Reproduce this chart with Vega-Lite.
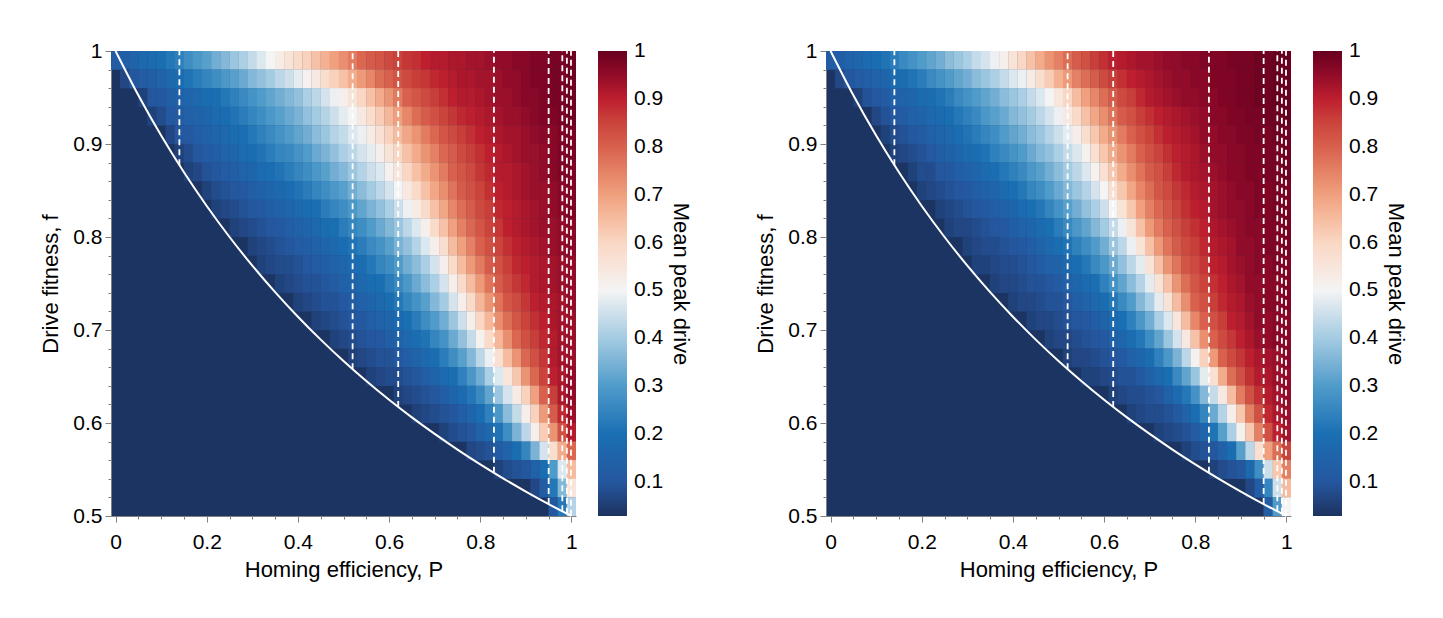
{
  "$schema": "https://vega.github.io/schema/vega-lite/v6.json",
  "background": "white",
  "padding": {"left": 39, "top": 40, "right": 5, "bottom": 5},
  "config": {
    "font": "Liberation Sans",
    "view": {"stroke": null},
    "axis": {"domainColor": "#808080", "tickColor": "#808080", "labelColor": "#000000", "titleColor": "#000000", "labelFontSize": 21, "titleFontSize": 22, "titleFontWeight": "normal", "grid": false, "labelPadding": 3}
  },
  "datasets": {
    "heatA": [
{"P":0,"f":0.99,"v":0.12},{"P":0.02,"f":0.99,"v":0.13},{"P":0.04,"f":0.99,"v":0.15},{"P":0.06,"f":0.99,"v":0.17},{"P":0.08,"f":0.99,"v":0.18},{"P":0.1,"f":0.99,"v":0.2},{"P":0.12,"f":0.99,"v":0.22},{"P":0.14,"f":0.99,"v":0.24},{"P":0.16,"f":0.99,"v":0.27},{"P":0.18,"f":0.99,"v":0.29},{"P":0.2,"f":0.99,"v":0.31},{"P":0.22,"f":0.99,"v":0.34},{"P":0.24,"f":0.99,"v":0.36},{"P":0.26,"f":0.99,"v":0.39},{"P":0.28,"f":0.99,"v":0.41},{"P":0.3,"f":0.99,"v":0.44},{"P":0.32,"f":0.99,"v":0.47},{"P":0.34,"f":0.99,"v":0.5},{"P":0.36,"f":0.99,"v":0.53},{"P":0.38,"f":0.99,"v":0.56},{"P":0.4,"f":0.99,"v":0.59},{"P":0.42,"f":0.99,"v":0.61},{"P":0.44,"f":0.99,"v":0.64},{"P":0.46,"f":0.99,"v":0.67},{"P":0.48,"f":0.99,"v":0.7},{"P":0.5,"f":0.99,"v":0.73},{"P":0.52,"f":0.99,"v":0.76},{"P":0.54,"f":0.99,"v":0.79},{"P":0.56,"f":0.99,"v":0.81},{"P":0.58,"f":0.99,"v":0.82},{"P":0.6,"f":0.99,"v":0.84},{"P":0.62,"f":0.99,"v":0.85},{"P":0.64,"f":0.99,"v":0.87},{"P":0.66,"f":0.99,"v":0.88},{"P":0.68,"f":0.99,"v":0.9},{"P":0.7,"f":0.99,"v":0.91},{"P":0.72,"f":0.99,"v":0.91},{"P":0.74,"f":0.99,"v":0.92},{"P":0.76,"f":0.99,"v":0.92},{"P":0.78,"f":0.99,"v":0.93},{"P":0.8,"f":0.99,"v":0.93},{"P":0.82,"f":0.99,"v":0.94},{"P":0.84,"f":0.99,"v":0.95},{"P":0.86,"f":0.99,"v":0.95},{"P":0.88,"f":0.99,"v":0.96},{"P":0.9,"f":0.99,"v":0.96},{"P":0.92,"f":0.99,"v":0.97},{"P":0.94,"f":0.99,"v":0.97},{"P":0.96,"f":0.99,"v":0.98},{"P":0.98,"f":0.99,"v":0.98},{"P":1,"f":0.99,"v":0.99},
{"P":0.02,"f":0.97,"v":0.07},{"P":0.04,"f":0.97,"v":0.1},{"P":0.06,"f":0.97,"v":0.12},{"P":0.08,"f":0.97,"v":0.13},{"P":0.1,"f":0.97,"v":0.15},{"P":0.12,"f":0.97,"v":0.17},{"P":0.14,"f":0.97,"v":0.19},{"P":0.16,"f":0.97,"v":0.21},{"P":0.18,"f":0.97,"v":0.23},{"P":0.2,"f":0.97,"v":0.25},{"P":0.22,"f":0.97,"v":0.27},{"P":0.24,"f":0.97,"v":0.29},{"P":0.26,"f":0.97,"v":0.31},{"P":0.28,"f":0.97,"v":0.33},{"P":0.3,"f":0.97,"v":0.36},{"P":0.32,"f":0.97,"v":0.38},{"P":0.34,"f":0.97,"v":0.4},{"P":0.36,"f":0.97,"v":0.43},{"P":0.38,"f":0.97,"v":0.45},{"P":0.4,"f":0.97,"v":0.48},{"P":0.42,"f":0.97,"v":0.51},{"P":0.44,"f":0.97,"v":0.54},{"P":0.46,"f":0.97,"v":0.58},{"P":0.48,"f":0.97,"v":0.61},{"P":0.5,"f":0.97,"v":0.64},{"P":0.52,"f":0.97,"v":0.68},{"P":0.54,"f":0.97,"v":0.71},{"P":0.56,"f":0.97,"v":0.74},{"P":0.58,"f":0.97,"v":0.78},{"P":0.6,"f":0.97,"v":0.8},{"P":0.62,"f":0.97,"v":0.82},{"P":0.64,"f":0.97,"v":0.84},{"P":0.66,"f":0.97,"v":0.86},{"P":0.68,"f":0.97,"v":0.87},{"P":0.7,"f":0.97,"v":0.89},{"P":0.72,"f":0.97,"v":0.9},{"P":0.74,"f":0.97,"v":0.91},{"P":0.76,"f":0.97,"v":0.92},{"P":0.78,"f":0.97,"v":0.92},{"P":0.8,"f":0.97,"v":0.93},{"P":0.82,"f":0.97,"v":0.93},{"P":0.84,"f":0.97,"v":0.94},{"P":0.86,"f":0.97,"v":0.95},{"P":0.88,"f":0.97,"v":0.95},{"P":0.9,"f":0.97,"v":0.96},{"P":0.92,"f":0.97,"v":0.97},{"P":0.94,"f":0.97,"v":0.97},{"P":0.96,"f":0.97,"v":0.98},{"P":0.98,"f":0.97,"v":0.98},{"P":1,"f":0.97,"v":0.99},
{"P":0.06,"f":0.95,"v":0.06},{"P":0.08,"f":0.95,"v":0.1},{"P":0.1,"f":0.95,"v":0.11},{"P":0.12,"f":0.95,"v":0.13},{"P":0.14,"f":0.95,"v":0.14},{"P":0.16,"f":0.95,"v":0.16},{"P":0.18,"f":0.95,"v":0.17},{"P":0.2,"f":0.95,"v":0.19},{"P":0.22,"f":0.95,"v":0.2},{"P":0.24,"f":0.95,"v":0.22},{"P":0.26,"f":0.95,"v":0.24},{"P":0.28,"f":0.95,"v":0.26},{"P":0.3,"f":0.95,"v":0.28},{"P":0.32,"f":0.95,"v":0.3},{"P":0.34,"f":0.95,"v":0.32},{"P":0.36,"f":0.95,"v":0.34},{"P":0.38,"f":0.95,"v":0.36},{"P":0.4,"f":0.95,"v":0.38},{"P":0.42,"f":0.95,"v":0.41},{"P":0.44,"f":0.95,"v":0.43},{"P":0.46,"f":0.95,"v":0.46},{"P":0.48,"f":0.95,"v":0.49},{"P":0.5,"f":0.95,"v":0.52},{"P":0.52,"f":0.95,"v":0.56},{"P":0.54,"f":0.95,"v":0.6},{"P":0.56,"f":0.95,"v":0.64},{"P":0.58,"f":0.95,"v":0.68},{"P":0.6,"f":0.95,"v":0.72},{"P":0.62,"f":0.95,"v":0.76},{"P":0.64,"f":0.95,"v":0.8},{"P":0.66,"f":0.95,"v":0.82},{"P":0.68,"f":0.95,"v":0.84},{"P":0.7,"f":0.95,"v":0.86},{"P":0.72,"f":0.95,"v":0.88},{"P":0.74,"f":0.95,"v":0.9},{"P":0.76,"f":0.95,"v":0.91},{"P":0.78,"f":0.95,"v":0.91},{"P":0.8,"f":0.95,"v":0.92},{"P":0.82,"f":0.95,"v":0.93},{"P":0.84,"f":0.95,"v":0.94},{"P":0.86,"f":0.95,"v":0.94},{"P":0.88,"f":0.95,"v":0.95},{"P":0.9,"f":0.95,"v":0.96},{"P":0.92,"f":0.95,"v":0.96},{"P":0.94,"f":0.95,"v":0.97},{"P":0.96,"f":0.95,"v":0.98},{"P":0.98,"f":0.95,"v":0.98},{"P":1,"f":0.95,"v":0.99},
{"P":0.08,"f":0.93,"v":0.06},{"P":0.1,"f":0.93,"v":0.08},{"P":0.12,"f":0.93,"v":0.11},{"P":0.14,"f":0.93,"v":0.12},{"P":0.16,"f":0.93,"v":0.14},{"P":0.18,"f":0.93,"v":0.15},{"P":0.2,"f":0.93,"v":0.16},{"P":0.22,"f":0.93,"v":0.18},{"P":0.24,"f":0.93,"v":0.19},{"P":0.26,"f":0.93,"v":0.21},{"P":0.28,"f":0.93,"v":0.23},{"P":0.3,"f":0.93,"v":0.25},{"P":0.32,"f":0.93,"v":0.27},{"P":0.34,"f":0.93,"v":0.29},{"P":0.36,"f":0.93,"v":0.31},{"P":0.38,"f":0.93,"v":0.33},{"P":0.4,"f":0.93,"v":0.35},{"P":0.42,"f":0.93,"v":0.38},{"P":0.44,"f":0.93,"v":0.4},{"P":0.46,"f":0.93,"v":0.42},{"P":0.48,"f":0.93,"v":0.45},{"P":0.5,"f":0.93,"v":0.48},{"P":0.52,"f":0.93,"v":0.5},{"P":0.54,"f":0.93,"v":0.54},{"P":0.56,"f":0.93,"v":0.58},{"P":0.58,"f":0.93,"v":0.62},{"P":0.6,"f":0.93,"v":0.66},{"P":0.62,"f":0.93,"v":0.7},{"P":0.64,"f":0.93,"v":0.74},{"P":0.66,"f":0.93,"v":0.78},{"P":0.68,"f":0.93,"v":0.81},{"P":0.7,"f":0.93,"v":0.83},{"P":0.72,"f":0.93,"v":0.85},{"P":0.74,"f":0.93,"v":0.87},{"P":0.76,"f":0.93,"v":0.89},{"P":0.78,"f":0.93,"v":0.9},{"P":0.8,"f":0.93,"v":0.91},{"P":0.82,"f":0.93,"v":0.92},{"P":0.84,"f":0.93,"v":0.93},{"P":0.86,"f":0.93,"v":0.94},{"P":0.88,"f":0.93,"v":0.94},{"P":0.9,"f":0.93,"v":0.95},{"P":0.92,"f":0.93,"v":0.96},{"P":0.94,"f":0.93,"v":0.97},{"P":0.96,"f":0.93,"v":0.97},{"P":0.98,"f":0.93,"v":0.98},{"P":1,"f":0.93,"v":0.99},
{"P":0.12,"f":0.91,"v":0.07},{"P":0.14,"f":0.91,"v":0.1},{"P":0.16,"f":0.91,"v":0.11},{"P":0.18,"f":0.91,"v":0.13},{"P":0.2,"f":0.91,"v":0.14},{"P":0.22,"f":0.91,"v":0.16},{"P":0.24,"f":0.91,"v":0.17},{"P":0.26,"f":0.91,"v":0.19},{"P":0.28,"f":0.91,"v":0.2},{"P":0.3,"f":0.91,"v":0.22},{"P":0.32,"f":0.91,"v":0.24},{"P":0.34,"f":0.91,"v":0.26},{"P":0.36,"f":0.91,"v":0.28},{"P":0.38,"f":0.91,"v":0.3},{"P":0.4,"f":0.91,"v":0.32},{"P":0.42,"f":0.91,"v":0.34},{"P":0.44,"f":0.91,"v":0.37},{"P":0.46,"f":0.91,"v":0.39},{"P":0.48,"f":0.91,"v":0.42},{"P":0.5,"f":0.91,"v":0.44},{"P":0.52,"f":0.91,"v":0.47},{"P":0.54,"f":0.91,"v":0.49},{"P":0.56,"f":0.91,"v":0.53},{"P":0.58,"f":0.91,"v":0.57},{"P":0.6,"f":0.91,"v":0.61},{"P":0.62,"f":0.91,"v":0.65},{"P":0.64,"f":0.91,"v":0.69},{"P":0.66,"f":0.91,"v":0.72},{"P":0.68,"f":0.91,"v":0.76},{"P":0.7,"f":0.91,"v":0.79},{"P":0.72,"f":0.91,"v":0.82},{"P":0.74,"f":0.91,"v":0.84},{"P":0.76,"f":0.91,"v":0.86},{"P":0.78,"f":0.91,"v":0.88},{"P":0.8,"f":0.91,"v":0.9},{"P":0.82,"f":0.91,"v":0.91},{"P":0.84,"f":0.91,"v":0.92},{"P":0.86,"f":0.91,"v":0.93},{"P":0.88,"f":0.91,"v":0.93},{"P":0.9,"f":0.91,"v":0.94},{"P":0.92,"f":0.91,"v":0.95},{"P":0.94,"f":0.91,"v":0.96},{"P":0.96,"f":0.91,"v":0.96},{"P":0.98,"f":0.91,"v":0.97},{"P":1,"f":0.91,"v":0.98},
{"P":0.14,"f":0.89,"v":0.06},{"P":0.16,"f":0.89,"v":0.08},{"P":0.18,"f":0.89,"v":0.1},{"P":0.2,"f":0.89,"v":0.12},{"P":0.22,"f":0.89,"v":0.13},{"P":0.24,"f":0.89,"v":0.15},{"P":0.26,"f":0.89,"v":0.16},{"P":0.28,"f":0.89,"v":0.18},{"P":0.3,"f":0.89,"v":0.19},{"P":0.32,"f":0.89,"v":0.21},{"P":0.34,"f":0.89,"v":0.23},{"P":0.36,"f":0.89,"v":0.25},{"P":0.38,"f":0.89,"v":0.26},{"P":0.4,"f":0.89,"v":0.28},{"P":0.42,"f":0.89,"v":0.3},{"P":0.44,"f":0.89,"v":0.33},{"P":0.46,"f":0.89,"v":0.35},{"P":0.48,"f":0.89,"v":0.38},{"P":0.5,"f":0.89,"v":0.41},{"P":0.52,"f":0.89,"v":0.43},{"P":0.54,"f":0.89,"v":0.46},{"P":0.56,"f":0.89,"v":0.48},{"P":0.58,"f":0.89,"v":0.52},{"P":0.6,"f":0.89,"v":0.56},{"P":0.62,"f":0.89,"v":0.6},{"P":0.64,"f":0.89,"v":0.64},{"P":0.66,"f":0.89,"v":0.68},{"P":0.68,"f":0.89,"v":0.72},{"P":0.7,"f":0.89,"v":0.75},{"P":0.72,"f":0.89,"v":0.79},{"P":0.74,"f":0.89,"v":0.81},{"P":0.76,"f":0.89,"v":0.84},{"P":0.78,"f":0.89,"v":0.86},{"P":0.8,"f":0.89,"v":0.88},{"P":0.82,"f":0.89,"v":0.9},{"P":0.84,"f":0.89,"v":0.91},{"P":0.86,"f":0.89,"v":0.92},{"P":0.88,"f":0.89,"v":0.93},{"P":0.9,"f":0.89,"v":0.94},{"P":0.92,"f":0.89,"v":0.94},{"P":0.94,"f":0.89,"v":0.95},{"P":0.96,"f":0.89,"v":0.96},{"P":0.98,"f":0.89,"v":0.97},{"P":1,"f":0.89,"v":0.98},
{"P":0.16,"f":0.87,"v":0.06},{"P":0.18,"f":0.87,"v":0.07},{"P":0.2,"f":0.87,"v":0.09},{"P":0.22,"f":0.87,"v":0.1},{"P":0.24,"f":0.87,"v":0.12},{"P":0.26,"f":0.87,"v":0.13},{"P":0.28,"f":0.87,"v":0.15},{"P":0.3,"f":0.87,"v":0.16},{"P":0.32,"f":0.87,"v":0.18},{"P":0.34,"f":0.87,"v":0.19},{"P":0.36,"f":0.87,"v":0.21},{"P":0.38,"f":0.87,"v":0.23},{"P":0.4,"f":0.87,"v":0.25},{"P":0.42,"f":0.87,"v":0.27},{"P":0.44,"f":0.87,"v":0.29},{"P":0.46,"f":0.87,"v":0.31},{"P":0.48,"f":0.87,"v":0.34},{"P":0.5,"f":0.87,"v":0.36},{"P":0.52,"f":0.87,"v":0.39},{"P":0.54,"f":0.87,"v":0.42},{"P":0.56,"f":0.87,"v":0.45},{"P":0.58,"f":0.87,"v":0.47},{"P":0.6,"f":0.87,"v":0.51},{"P":0.62,"f":0.87,"v":0.55},{"P":0.64,"f":0.87,"v":0.6},{"P":0.66,"f":0.87,"v":0.64},{"P":0.68,"f":0.87,"v":0.68},{"P":0.7,"f":0.87,"v":0.72},{"P":0.72,"f":0.87,"v":0.76},{"P":0.74,"f":0.87,"v":0.8},{"P":0.76,"f":0.87,"v":0.82},{"P":0.78,"f":0.87,"v":0.84},{"P":0.8,"f":0.87,"v":0.87},{"P":0.82,"f":0.87,"v":0.89},{"P":0.84,"f":0.87,"v":0.91},{"P":0.86,"f":0.87,"v":0.91},{"P":0.88,"f":0.87,"v":0.92},{"P":0.9,"f":0.87,"v":0.93},{"P":0.92,"f":0.87,"v":0.94},{"P":0.94,"f":0.87,"v":0.95},{"P":0.96,"f":0.87,"v":0.96},{"P":0.98,"f":0.87,"v":0.97},{"P":1,"f":0.87,"v":0.97},
{"P":0.2,"f":0.85,"v":0.06},{"P":0.22,"f":0.85,"v":0.08},{"P":0.24,"f":0.85,"v":0.09},{"P":0.26,"f":0.85,"v":0.1},{"P":0.28,"f":0.85,"v":0.11},{"P":0.3,"f":0.85,"v":0.13},{"P":0.32,"f":0.85,"v":0.14},{"P":0.34,"f":0.85,"v":0.16},{"P":0.36,"f":0.85,"v":0.17},{"P":0.38,"f":0.85,"v":0.19},{"P":0.4,"f":0.85,"v":0.21},{"P":0.42,"f":0.85,"v":0.23},{"P":0.44,"f":0.85,"v":0.25},{"P":0.46,"f":0.85,"v":0.27},{"P":0.48,"f":0.85,"v":0.29},{"P":0.5,"f":0.85,"v":0.31},{"P":0.52,"f":0.85,"v":0.34},{"P":0.54,"f":0.85,"v":0.37},{"P":0.56,"f":0.85,"v":0.4},{"P":0.58,"f":0.85,"v":0.43},{"P":0.6,"f":0.85,"v":0.46},{"P":0.62,"f":0.85,"v":0.5},{"P":0.64,"f":0.85,"v":0.54},{"P":0.66,"f":0.85,"v":0.59},{"P":0.68,"f":0.85,"v":0.64},{"P":0.7,"f":0.85,"v":0.69},{"P":0.72,"f":0.85,"v":0.73},{"P":0.74,"f":0.85,"v":0.77},{"P":0.76,"f":0.85,"v":0.81},{"P":0.78,"f":0.85,"v":0.83},{"P":0.8,"f":0.85,"v":0.85},{"P":0.82,"f":0.85,"v":0.88},{"P":0.84,"f":0.85,"v":0.9},{"P":0.86,"f":0.85,"v":0.91},{"P":0.88,"f":0.85,"v":0.92},{"P":0.9,"f":0.85,"v":0.93},{"P":0.92,"f":0.85,"v":0.94},{"P":0.94,"f":0.85,"v":0.94},{"P":0.96,"f":0.85,"v":0.95},{"P":0.98,"f":0.85,"v":0.96},{"P":1,"f":0.85,"v":0.97},
{"P":0.22,"f":0.83,"v":0.06},{"P":0.24,"f":0.83,"v":0.07},{"P":0.26,"f":0.83,"v":0.08},{"P":0.28,"f":0.83,"v":0.09},{"P":0.3,"f":0.83,"v":0.1},{"P":0.32,"f":0.83,"v":0.11},{"P":0.34,"f":0.83,"v":0.13},{"P":0.36,"f":0.83,"v":0.14},{"P":0.38,"f":0.83,"v":0.16},{"P":0.4,"f":0.83,"v":0.17},{"P":0.42,"f":0.83,"v":0.19},{"P":0.44,"f":0.83,"v":0.2},{"P":0.46,"f":0.83,"v":0.23},{"P":0.48,"f":0.83,"v":0.25},{"P":0.5,"f":0.83,"v":0.27},{"P":0.52,"f":0.83,"v":0.29},{"P":0.54,"f":0.83,"v":0.32},{"P":0.56,"f":0.83,"v":0.35},{"P":0.58,"f":0.83,"v":0.38},{"P":0.6,"f":0.83,"v":0.41},{"P":0.62,"f":0.83,"v":0.45},{"P":0.64,"f":0.83,"v":0.49},{"P":0.66,"f":0.83,"v":0.53},{"P":0.68,"f":0.83,"v":0.59},{"P":0.7,"f":0.83,"v":0.64},{"P":0.72,"f":0.83,"v":0.69},{"P":0.74,"f":0.83,"v":0.74},{"P":0.76,"f":0.83,"v":0.78},{"P":0.78,"f":0.83,"v":0.81},{"P":0.8,"f":0.83,"v":0.84},{"P":0.82,"f":0.83,"v":0.86},{"P":0.84,"f":0.83,"v":0.89},{"P":0.86,"f":0.83,"v":0.9},{"P":0.88,"f":0.83,"v":0.91},{"P":0.9,"f":0.83,"v":0.92},{"P":0.92,"f":0.83,"v":0.93},{"P":0.94,"f":0.83,"v":0.94},{"P":0.96,"f":0.83,"v":0.95},{"P":0.98,"f":0.83,"v":0.96},{"P":1,"f":0.83,"v":0.97},
{"P":0.26,"f":0.81,"v":0.06},{"P":0.28,"f":0.81,"v":0.07},{"P":0.3,"f":0.81,"v":0.08},{"P":0.32,"f":0.81,"v":0.09},{"P":0.34,"f":0.81,"v":0.1},{"P":0.36,"f":0.81,"v":0.11},{"P":0.38,"f":0.81,"v":0.13},{"P":0.4,"f":0.81,"v":0.14},{"P":0.42,"f":0.81,"v":0.16},{"P":0.44,"f":0.81,"v":0.17},{"P":0.46,"f":0.81,"v":0.19},{"P":0.48,"f":0.81,"v":0.2},{"P":0.5,"f":0.81,"v":0.23},{"P":0.52,"f":0.81,"v":0.25},{"P":0.54,"f":0.81,"v":0.27},{"P":0.56,"f":0.81,"v":0.3},{"P":0.58,"f":0.81,"v":0.33},{"P":0.6,"f":0.81,"v":0.36},{"P":0.62,"f":0.81,"v":0.39},{"P":0.64,"f":0.81,"v":0.43},{"P":0.66,"f":0.81,"v":0.47},{"P":0.68,"f":0.81,"v":0.52},{"P":0.7,"f":0.81,"v":0.59},{"P":0.72,"f":0.81,"v":0.64},{"P":0.74,"f":0.81,"v":0.7},{"P":0.76,"f":0.81,"v":0.75},{"P":0.78,"f":0.81,"v":0.79},{"P":0.8,"f":0.81,"v":0.82},{"P":0.82,"f":0.81,"v":0.85},{"P":0.84,"f":0.81,"v":0.87},{"P":0.86,"f":0.81,"v":0.9},{"P":0.88,"f":0.81,"v":0.91},{"P":0.9,"f":0.81,"v":0.92},{"P":0.92,"f":0.81,"v":0.93},{"P":0.94,"f":0.81,"v":0.94},{"P":0.96,"f":0.81,"v":0.94},{"P":0.98,"f":0.81,"v":0.95},{"P":1,"f":0.81,"v":0.96},
{"P":0.3,"f":0.79,"v":0.06},{"P":0.32,"f":0.79,"v":0.07},{"P":0.34,"f":0.79,"v":0.08},{"P":0.36,"f":0.79,"v":0.09},{"P":0.38,"f":0.79,"v":0.1},{"P":0.4,"f":0.79,"v":0.12},{"P":0.42,"f":0.79,"v":0.13},{"P":0.44,"f":0.79,"v":0.14},{"P":0.46,"f":0.79,"v":0.16},{"P":0.48,"f":0.79,"v":0.17},{"P":0.5,"f":0.79,"v":0.19},{"P":0.52,"f":0.79,"v":0.21},{"P":0.54,"f":0.79,"v":0.23},{"P":0.56,"f":0.79,"v":0.26},{"P":0.58,"f":0.79,"v":0.28},{"P":0.6,"f":0.79,"v":0.31},{"P":0.62,"f":0.79,"v":0.35},{"P":0.64,"f":0.79,"v":0.38},{"P":0.66,"f":0.79,"v":0.42},{"P":0.68,"f":0.79,"v":0.47},{"P":0.7,"f":0.79,"v":0.52},{"P":0.72,"f":0.79,"v":0.58},{"P":0.74,"f":0.79,"v":0.65},{"P":0.76,"f":0.79,"v":0.7},{"P":0.78,"f":0.79,"v":0.75},{"P":0.8,"f":0.79,"v":0.8},{"P":0.82,"f":0.79,"v":0.83},{"P":0.84,"f":0.79,"v":0.85},{"P":0.86,"f":0.79,"v":0.88},{"P":0.88,"f":0.79,"v":0.9},{"P":0.9,"f":0.79,"v":0.91},{"P":0.92,"f":0.79,"v":0.92},{"P":0.94,"f":0.79,"v":0.93},{"P":0.96,"f":0.79,"v":0.94},{"P":0.98,"f":0.79,"v":0.95},{"P":1,"f":0.79,"v":0.96},
{"P":0.32,"f":0.77,"v":0.06},{"P":0.34,"f":0.77,"v":0.07},{"P":0.36,"f":0.77,"v":0.08},{"P":0.38,"f":0.77,"v":0.08},{"P":0.4,"f":0.77,"v":0.09},{"P":0.42,"f":0.77,"v":0.1},{"P":0.44,"f":0.77,"v":0.12},{"P":0.46,"f":0.77,"v":0.13},{"P":0.48,"f":0.77,"v":0.15},{"P":0.5,"f":0.77,"v":0.16},{"P":0.52,"f":0.77,"v":0.18},{"P":0.54,"f":0.77,"v":0.19},{"P":0.56,"f":0.77,"v":0.22},{"P":0.58,"f":0.77,"v":0.25},{"P":0.6,"f":0.77,"v":0.27},{"P":0.62,"f":0.77,"v":0.3},{"P":0.64,"f":0.77,"v":0.34},{"P":0.66,"f":0.77,"v":0.37},{"P":0.68,"f":0.77,"v":0.41},{"P":0.7,"f":0.77,"v":0.46},{"P":0.72,"f":0.77,"v":0.52},{"P":0.74,"f":0.77,"v":0.59},{"P":0.76,"f":0.77,"v":0.65},{"P":0.78,"f":0.77,"v":0.71},{"P":0.8,"f":0.77,"v":0.76},{"P":0.82,"f":0.77,"v":0.81},{"P":0.84,"f":0.77,"v":0.83},{"P":0.86,"f":0.77,"v":0.86},{"P":0.88,"f":0.77,"v":0.89},{"P":0.9,"f":0.77,"v":0.9},{"P":0.92,"f":0.77,"v":0.91},{"P":0.94,"f":0.77,"v":0.92},{"P":0.96,"f":0.77,"v":0.93},{"P":0.98,"f":0.77,"v":0.94},{"P":1,"f":0.77,"v":0.95},
{"P":0.36,"f":0.75,"v":0.06},{"P":0.38,"f":0.75,"v":0.07},{"P":0.4,"f":0.75,"v":0.08},{"P":0.42,"f":0.75,"v":0.09},{"P":0.44,"f":0.75,"v":0.09},{"P":0.46,"f":0.75,"v":0.1},{"P":0.48,"f":0.75,"v":0.12},{"P":0.5,"f":0.75,"v":0.14},{"P":0.52,"f":0.75,"v":0.15},{"P":0.54,"f":0.75,"v":0.17},{"P":0.56,"f":0.75,"v":0.19},{"P":0.58,"f":0.75,"v":0.2},{"P":0.6,"f":0.75,"v":0.23},{"P":0.62,"f":0.75,"v":0.26},{"P":0.64,"f":0.75,"v":0.29},{"P":0.66,"f":0.75,"v":0.33},{"P":0.68,"f":0.75,"v":0.37},{"P":0.7,"f":0.75,"v":0.41},{"P":0.72,"f":0.75,"v":0.46},{"P":0.74,"f":0.75,"v":0.52},{"P":0.76,"f":0.75,"v":0.59},{"P":0.78,"f":0.75,"v":0.65},{"P":0.8,"f":0.75,"v":0.71},{"P":0.82,"f":0.75,"v":0.77},{"P":0.84,"f":0.75,"v":0.81},{"P":0.86,"f":0.75,"v":0.84},{"P":0.88,"f":0.75,"v":0.87},{"P":0.9,"f":0.75,"v":0.89},{"P":0.92,"f":0.75,"v":0.91},{"P":0.94,"f":0.75,"v":0.92},{"P":0.96,"f":0.75,"v":0.93},{"P":0.98,"f":0.75,"v":0.94},{"P":1,"f":0.75,"v":0.95},
{"P":0.4,"f":0.73,"v":0.06},{"P":0.42,"f":0.73,"v":0.07},{"P":0.44,"f":0.73,"v":0.08},{"P":0.46,"f":0.73,"v":0.09},{"P":0.48,"f":0.73,"v":0.09},{"P":0.5,"f":0.73,"v":0.11},{"P":0.52,"f":0.73,"v":0.12},{"P":0.54,"f":0.73,"v":0.14},{"P":0.56,"f":0.73,"v":0.16},{"P":0.58,"f":0.73,"v":0.17},{"P":0.6,"f":0.73,"v":0.19},{"P":0.62,"f":0.73,"v":0.22},{"P":0.64,"f":0.73,"v":0.25},{"P":0.66,"f":0.73,"v":0.28},{"P":0.68,"f":0.73,"v":0.31},{"P":0.7,"f":0.73,"v":0.36},{"P":0.72,"f":0.73,"v":0.4},{"P":0.74,"f":0.73,"v":0.46},{"P":0.76,"f":0.73,"v":0.52},{"P":0.78,"f":0.73,"v":0.59},{"P":0.8,"f":0.73,"v":0.66},{"P":0.82,"f":0.73,"v":0.72},{"P":0.84,"f":0.73,"v":0.77},{"P":0.86,"f":0.73,"v":0.82},{"P":0.88,"f":0.73,"v":0.84},{"P":0.9,"f":0.73,"v":0.87},{"P":0.92,"f":0.73,"v":0.9},{"P":0.94,"f":0.73,"v":0.91},{"P":0.96,"f":0.73,"v":0.92},{"P":0.98,"f":0.73,"v":0.93},{"P":1,"f":0.73,"v":0.95},
{"P":0.44,"f":0.71,"v":0.06},{"P":0.46,"f":0.71,"v":0.07},{"P":0.48,"f":0.71,"v":0.08},{"P":0.5,"f":0.71,"v":0.09},{"P":0.52,"f":0.71,"v":0.1},{"P":0.54,"f":0.71,"v":0.11},{"P":0.56,"f":0.71,"v":0.13},{"P":0.58,"f":0.71,"v":0.15},{"P":0.6,"f":0.71,"v":0.16},{"P":0.62,"f":0.71,"v":0.18},{"P":0.64,"f":0.71,"v":0.2},{"P":0.66,"f":0.71,"v":0.23},{"P":0.68,"f":0.71,"v":0.27},{"P":0.7,"f":0.71,"v":0.3},{"P":0.72,"f":0.71,"v":0.34},{"P":0.74,"f":0.71,"v":0.39},{"P":0.76,"f":0.71,"v":0.45},{"P":0.78,"f":0.71,"v":0.52},{"P":0.8,"f":0.71,"v":0.6},{"P":0.82,"f":0.71,"v":0.66},{"P":0.84,"f":0.71,"v":0.73},{"P":0.86,"f":0.71,"v":0.78},{"P":0.88,"f":0.71,"v":0.82},{"P":0.9,"f":0.71,"v":0.85},{"P":0.92,"f":0.71,"v":0.88},{"P":0.94,"f":0.71,"v":0.9},{"P":0.96,"f":0.71,"v":0.92},{"P":0.98,"f":0.71,"v":0.93},{"P":1,"f":0.71,"v":0.94},
{"P":0.48,"f":0.69,"v":0.06},{"P":0.5,"f":0.69,"v":0.07},{"P":0.52,"f":0.69,"v":0.08},{"P":0.54,"f":0.69,"v":0.09},{"P":0.56,"f":0.69,"v":0.1},{"P":0.58,"f":0.69,"v":0.11},{"P":0.6,"f":0.69,"v":0.13},{"P":0.62,"f":0.69,"v":0.15},{"P":0.64,"f":0.69,"v":0.17},{"P":0.66,"f":0.69,"v":0.19},{"P":0.68,"f":0.69,"v":0.21},{"P":0.7,"f":0.69,"v":0.25},{"P":0.72,"f":0.69,"v":0.28},{"P":0.74,"f":0.69,"v":0.33},{"P":0.76,"f":0.69,"v":0.38},{"P":0.78,"f":0.69,"v":0.44},{"P":0.8,"f":0.69,"v":0.51},{"P":0.82,"f":0.69,"v":0.59},{"P":0.84,"f":0.69,"v":0.66},{"P":0.86,"f":0.69,"v":0.73},{"P":0.88,"f":0.69,"v":0.79},{"P":0.9,"f":0.69,"v":0.83},{"P":0.92,"f":0.69,"v":0.86},{"P":0.94,"f":0.69,"v":0.89},{"P":0.96,"f":0.69,"v":0.91},{"P":0.98,"f":0.69,"v":0.93},{"P":1,"f":0.69,"v":0.94},
{"P":0.52,"f":0.67,"v":0.06},{"P":0.54,"f":0.67,"v":0.07},{"P":0.56,"f":0.67,"v":0.08},{"P":0.58,"f":0.67,"v":0.09},{"P":0.6,"f":0.67,"v":0.09},{"P":0.62,"f":0.67,"v":0.11},{"P":0.64,"f":0.67,"v":0.13},{"P":0.66,"f":0.67,"v":0.15},{"P":0.68,"f":0.67,"v":0.17},{"P":0.7,"f":0.67,"v":0.19},{"P":0.72,"f":0.67,"v":0.23},{"P":0.74,"f":0.67,"v":0.27},{"P":0.76,"f":0.67,"v":0.31},{"P":0.78,"f":0.67,"v":0.36},{"P":0.8,"f":0.67,"v":0.43},{"P":0.82,"f":0.67,"v":0.49},{"P":0.84,"f":0.67,"v":0.57},{"P":0.86,"f":0.67,"v":0.65},{"P":0.88,"f":0.67,"v":0.72},{"P":0.9,"f":0.67,"v":0.79},{"P":0.92,"f":0.67,"v":0.83},{"P":0.94,"f":0.67,"v":0.87},{"P":0.96,"f":0.67,"v":0.91},{"P":0.98,"f":0.67,"v":0.93},{"P":1,"f":0.67,"v":0.94},
{"P":0.56,"f":0.65,"v":0.06},{"P":0.58,"f":0.65,"v":0.07},{"P":0.6,"f":0.65,"v":0.08},{"P":0.62,"f":0.65,"v":0.08},{"P":0.64,"f":0.65,"v":0.09},{"P":0.66,"f":0.65,"v":0.1},{"P":0.68,"f":0.65,"v":0.13},{"P":0.7,"f":0.65,"v":0.15},{"P":0.72,"f":0.65,"v":0.18},{"P":0.74,"f":0.65,"v":0.2},{"P":0.76,"f":0.65,"v":0.24},{"P":0.78,"f":0.65,"v":0.29},{"P":0.8,"f":0.65,"v":0.34},{"P":0.82,"f":0.65,"v":0.41},{"P":0.84,"f":0.65,"v":0.47},{"P":0.86,"f":0.65,"v":0.55},{"P":0.88,"f":0.65,"v":0.63},{"P":0.9,"f":0.65,"v":0.72},{"P":0.92,"f":0.65,"v":0.79},{"P":0.94,"f":0.65,"v":0.85},{"P":0.96,"f":0.65,"v":0.9},{"P":0.98,"f":0.65,"v":0.92},{"P":1,"f":0.65,"v":0.95},
{"P":0.62,"f":0.63,"v":0.06},{"P":0.64,"f":0.63,"v":0.07},{"P":0.66,"f":0.63,"v":0.08},{"P":0.68,"f":0.63,"v":0.09},{"P":0.7,"f":0.63,"v":0.1},{"P":0.72,"f":0.63,"v":0.13},{"P":0.74,"f":0.63,"v":0.16},{"P":0.76,"f":0.63,"v":0.18},{"P":0.78,"f":0.63,"v":0.22},{"P":0.8,"f":0.63,"v":0.26},{"P":0.82,"f":0.63,"v":0.32},{"P":0.84,"f":0.63,"v":0.39},{"P":0.86,"f":0.63,"v":0.46},{"P":0.88,"f":0.63,"v":0.53},{"P":0.9,"f":0.63,"v":0.61},{"P":0.92,"f":0.63,"v":0.7},{"P":0.94,"f":0.63,"v":0.8},{"P":0.96,"f":0.63,"v":0.86},{"P":0.98,"f":0.63,"v":0.92},{"P":1,"f":0.63,"v":0.95},
{"P":0.66,"f":0.61,"v":0.06},{"P":0.68,"f":0.61,"v":0.07},{"P":0.7,"f":0.61,"v":0.08},{"P":0.72,"f":0.61,"v":0.09},{"P":0.74,"f":0.61,"v":0.1},{"P":0.76,"f":0.61,"v":0.13},{"P":0.78,"f":0.61,"v":0.16},{"P":0.8,"f":0.61,"v":0.19},{"P":0.82,"f":0.61,"v":0.24},{"P":0.84,"f":0.61,"v":0.29},{"P":0.86,"f":0.61,"v":0.37},{"P":0.88,"f":0.61,"v":0.44},{"P":0.9,"f":0.61,"v":0.52},{"P":0.92,"f":0.61,"v":0.61},{"P":0.94,"f":0.61,"v":0.71},{"P":0.96,"f":0.61,"v":0.81},{"P":0.98,"f":0.61,"v":0.89},{"P":1,"f":0.61,"v":0.94},
{"P":0.72,"f":0.59,"v":0.06},{"P":0.74,"f":0.59,"v":0.08},{"P":0.76,"f":0.59,"v":0.09},{"P":0.78,"f":0.59,"v":0.1},{"P":0.8,"f":0.59,"v":0.14},{"P":0.82,"f":0.59,"v":0.17},{"P":0.84,"f":0.59,"v":0.21},{"P":0.86,"f":0.59,"v":0.27},{"P":0.88,"f":0.59,"v":0.35},{"P":0.9,"f":0.59,"v":0.43},{"P":0.92,"f":0.59,"v":0.52},{"P":0.94,"f":0.59,"v":0.62},{"P":0.96,"f":0.59,"v":0.72},{"P":0.98,"f":0.59,"v":0.83},{"P":1,"f":0.59,"v":0.91},
{"P":0.78,"f":0.57,"v":0.07},{"P":0.8,"f":0.57,"v":0.08},{"P":0.82,"f":0.57,"v":0.09},{"P":0.84,"f":0.57,"v":0.12},{"P":0.86,"f":0.57,"v":0.15},{"P":0.88,"f":0.57,"v":0.19},{"P":0.9,"f":0.57,"v":0.25},{"P":0.92,"f":0.57,"v":0.35},{"P":0.94,"f":0.57,"v":0.46},{"P":0.96,"f":0.57,"v":0.58},{"P":0.98,"f":0.57,"v":0.68},{"P":1,"f":0.57,"v":0.79},
{"P":0.84,"f":0.55,"v":0.06},{"P":0.86,"f":0.55,"v":0.08},{"P":0.88,"f":0.55,"v":0.09},{"P":0.9,"f":0.55,"v":0.1},{"P":0.92,"f":0.55,"v":0.14},{"P":0.94,"f":0.55,"v":0.19},{"P":0.96,"f":0.55,"v":0.3},{"P":0.98,"f":0.55,"v":0.47},{"P":1,"f":0.55,"v":0.65},
{"P":0.92,"f":0.53,"v":0.07},{"P":0.94,"f":0.53,"v":0.12},{"P":0.96,"f":0.53,"v":0.22},{"P":0.98,"f":0.53,"v":0.36},{"P":1,"f":0.53,"v":0.55},
{"P":0.96,"f":0.51,"v":0.1},{"P":0.98,"f":0.51,"v":0.22},{"P":1,"f":0.51,"v":0.42}
    ],
    "heatB": [
{"P":0,"f":0.99,"v":0.12},{"P":0.02,"f":0.99,"v":0.13},{"P":0.04,"f":0.99,"v":0.15},{"P":0.06,"f":0.99,"v":0.16},{"P":0.08,"f":0.99,"v":0.18},{"P":0.1,"f":0.99,"v":0.19},{"P":0.12,"f":0.99,"v":0.21},{"P":0.14,"f":0.99,"v":0.23},{"P":0.16,"f":0.99,"v":0.26},{"P":0.18,"f":0.99,"v":0.28},{"P":0.2,"f":0.99,"v":0.3},{"P":0.22,"f":0.99,"v":0.32},{"P":0.24,"f":0.99,"v":0.34},{"P":0.26,"f":0.99,"v":0.37},{"P":0.28,"f":0.99,"v":0.39},{"P":0.3,"f":0.99,"v":0.41},{"P":0.32,"f":0.99,"v":0.44},{"P":0.34,"f":0.99,"v":0.46},{"P":0.36,"f":0.99,"v":0.49},{"P":0.38,"f":0.99,"v":0.52},{"P":0.4,"f":0.99,"v":0.56},{"P":0.42,"f":0.99,"v":0.6},{"P":0.44,"f":0.99,"v":0.64},{"P":0.46,"f":0.99,"v":0.68},{"P":0.48,"f":0.99,"v":0.72},{"P":0.5,"f":0.99,"v":0.75},{"P":0.52,"f":0.99,"v":0.78},{"P":0.54,"f":0.99,"v":0.81},{"P":0.56,"f":0.99,"v":0.83},{"P":0.58,"f":0.99,"v":0.86},{"P":0.6,"f":0.99,"v":0.88},{"P":0.62,"f":0.99,"v":0.9},{"P":0.64,"f":0.99,"v":0.91},{"P":0.66,"f":0.99,"v":0.92},{"P":0.68,"f":0.99,"v":0.93},{"P":0.7,"f":0.99,"v":0.93},{"P":0.72,"f":0.99,"v":0.94},{"P":0.74,"f":0.99,"v":0.95},{"P":0.76,"f":0.99,"v":0.95},{"P":0.78,"f":0.99,"v":0.96},{"P":0.8,"f":0.99,"v":0.96},{"P":0.82,"f":0.99,"v":0.97},{"P":0.84,"f":0.99,"v":0.97},{"P":0.86,"f":0.99,"v":0.97},{"P":0.88,"f":0.99,"v":0.98},{"P":0.9,"f":0.99,"v":0.98},{"P":0.92,"f":0.99,"v":0.98},{"P":0.94,"f":0.99,"v":0.99},{"P":0.96,"f":0.99,"v":0.99},{"P":0.98,"f":0.99,"v":1},{"P":1,"f":0.99,"v":1},
{"P":0.02,"f":0.97,"v":0.07},{"P":0.04,"f":0.97,"v":0.1},{"P":0.06,"f":0.97,"v":0.12},{"P":0.08,"f":0.97,"v":0.13},{"P":0.1,"f":0.97,"v":0.15},{"P":0.12,"f":0.97,"v":0.16},{"P":0.14,"f":0.97,"v":0.18},{"P":0.16,"f":0.97,"v":0.19},{"P":0.18,"f":0.97,"v":0.21},{"P":0.2,"f":0.97,"v":0.23},{"P":0.22,"f":0.97,"v":0.26},{"P":0.24,"f":0.97,"v":0.28},{"P":0.26,"f":0.97,"v":0.3},{"P":0.28,"f":0.97,"v":0.32},{"P":0.3,"f":0.97,"v":0.34},{"P":0.32,"f":0.97,"v":0.37},{"P":0.34,"f":0.97,"v":0.39},{"P":0.36,"f":0.97,"v":0.41},{"P":0.38,"f":0.97,"v":0.44},{"P":0.4,"f":0.97,"v":0.47},{"P":0.42,"f":0.97,"v":0.49},{"P":0.44,"f":0.97,"v":0.53},{"P":0.46,"f":0.97,"v":0.58},{"P":0.48,"f":0.97,"v":0.62},{"P":0.5,"f":0.97,"v":0.67},{"P":0.52,"f":0.97,"v":0.71},{"P":0.54,"f":0.97,"v":0.75},{"P":0.56,"f":0.97,"v":0.78},{"P":0.58,"f":0.97,"v":0.81},{"P":0.6,"f":0.97,"v":0.84},{"P":0.62,"f":0.97,"v":0.86},{"P":0.64,"f":0.97,"v":0.88},{"P":0.66,"f":0.97,"v":0.9},{"P":0.68,"f":0.97,"v":0.91},{"P":0.7,"f":0.97,"v":0.92},{"P":0.72,"f":0.97,"v":0.93},{"P":0.74,"f":0.97,"v":0.94},{"P":0.76,"f":0.97,"v":0.95},{"P":0.78,"f":0.97,"v":0.95},{"P":0.8,"f":0.97,"v":0.96},{"P":0.82,"f":0.97,"v":0.96},{"P":0.84,"f":0.97,"v":0.97},{"P":0.86,"f":0.97,"v":0.97},{"P":0.88,"f":0.97,"v":0.97},{"P":0.9,"f":0.97,"v":0.98},{"P":0.92,"f":0.97,"v":0.98},{"P":0.94,"f":0.97,"v":0.99},{"P":0.96,"f":0.97,"v":0.99},{"P":0.98,"f":0.97,"v":1},{"P":1,"f":0.97,"v":1},
{"P":0.06,"f":0.95,"v":0.06},{"P":0.08,"f":0.95,"v":0.09},{"P":0.1,"f":0.95,"v":0.11},{"P":0.12,"f":0.95,"v":0.12},{"P":0.14,"f":0.95,"v":0.14},{"P":0.16,"f":0.95,"v":0.15},{"P":0.18,"f":0.95,"v":0.16},{"P":0.2,"f":0.95,"v":0.18},{"P":0.22,"f":0.95,"v":0.19},{"P":0.24,"f":0.95,"v":0.21},{"P":0.26,"f":0.95,"v":0.23},{"P":0.28,"f":0.95,"v":0.26},{"P":0.3,"f":0.95,"v":0.28},{"P":0.32,"f":0.95,"v":0.3},{"P":0.34,"f":0.95,"v":0.32},{"P":0.36,"f":0.95,"v":0.34},{"P":0.38,"f":0.95,"v":0.37},{"P":0.4,"f":0.95,"v":0.39},{"P":0.42,"f":0.95,"v":0.41},{"P":0.44,"f":0.95,"v":0.44},{"P":0.46,"f":0.95,"v":0.47},{"P":0.48,"f":0.95,"v":0.5},{"P":0.5,"f":0.95,"v":0.55},{"P":0.52,"f":0.95,"v":0.6},{"P":0.54,"f":0.95,"v":0.65},{"P":0.56,"f":0.95,"v":0.7},{"P":0.58,"f":0.95,"v":0.74},{"P":0.6,"f":0.95,"v":0.78},{"P":0.62,"f":0.95,"v":0.81},{"P":0.64,"f":0.95,"v":0.84},{"P":0.66,"f":0.95,"v":0.86},{"P":0.68,"f":0.95,"v":0.89},{"P":0.7,"f":0.95,"v":0.91},{"P":0.72,"f":0.95,"v":0.92},{"P":0.74,"f":0.95,"v":0.93},{"P":0.76,"f":0.95,"v":0.94},{"P":0.78,"f":0.95,"v":0.95},{"P":0.8,"f":0.95,"v":0.95},{"P":0.82,"f":0.95,"v":0.96},{"P":0.84,"f":0.95,"v":0.96},{"P":0.86,"f":0.95,"v":0.97},{"P":0.88,"f":0.95,"v":0.97},{"P":0.9,"f":0.95,"v":0.98},{"P":0.92,"f":0.95,"v":0.98},{"P":0.94,"f":0.95,"v":0.99},{"P":0.96,"f":0.95,"v":0.99},{"P":0.98,"f":0.95,"v":1},{"P":1,"f":0.95,"v":1},
{"P":0.1,"f":0.93,"v":0.07},{"P":0.12,"f":0.93,"v":0.09},{"P":0.14,"f":0.93,"v":0.11},{"P":0.16,"f":0.93,"v":0.12},{"P":0.18,"f":0.93,"v":0.14},{"P":0.2,"f":0.93,"v":0.15},{"P":0.22,"f":0.93,"v":0.17},{"P":0.24,"f":0.93,"v":0.18},{"P":0.26,"f":0.93,"v":0.2},{"P":0.28,"f":0.93,"v":0.22},{"P":0.3,"f":0.93,"v":0.24},{"P":0.32,"f":0.93,"v":0.26},{"P":0.34,"f":0.93,"v":0.29},{"P":0.36,"f":0.93,"v":0.31},{"P":0.38,"f":0.93,"v":0.33},{"P":0.4,"f":0.93,"v":0.36},{"P":0.42,"f":0.93,"v":0.38},{"P":0.44,"f":0.93,"v":0.4},{"P":0.46,"f":0.93,"v":0.43},{"P":0.48,"f":0.93,"v":0.46},{"P":0.5,"f":0.93,"v":0.49},{"P":0.52,"f":0.93,"v":0.54},{"P":0.54,"f":0.93,"v":0.59},{"P":0.56,"f":0.93,"v":0.64},{"P":0.58,"f":0.93,"v":0.69},{"P":0.6,"f":0.93,"v":0.73},{"P":0.62,"f":0.93,"v":0.77},{"P":0.64,"f":0.93,"v":0.81},{"P":0.66,"f":0.93,"v":0.83},{"P":0.68,"f":0.93,"v":0.86},{"P":0.7,"f":0.93,"v":0.88},{"P":0.72,"f":0.93,"v":0.9},{"P":0.74,"f":0.93,"v":0.91},{"P":0.76,"f":0.93,"v":0.92},{"P":0.78,"f":0.93,"v":0.93},{"P":0.8,"f":0.93,"v":0.94},{"P":0.82,"f":0.93,"v":0.95},{"P":0.84,"f":0.93,"v":0.96},{"P":0.86,"f":0.93,"v":0.96},{"P":0.88,"f":0.93,"v":0.97},{"P":0.9,"f":0.93,"v":0.97},{"P":0.92,"f":0.93,"v":0.98},{"P":0.94,"f":0.93,"v":0.98},{"P":0.96,"f":0.93,"v":0.99},{"P":0.98,"f":0.93,"v":0.99},{"P":1,"f":0.93,"v":1},
{"P":0.12,"f":0.91,"v":0.06},{"P":0.14,"f":0.91,"v":0.08},{"P":0.16,"f":0.91,"v":0.09},{"P":0.18,"f":0.91,"v":0.11},{"P":0.2,"f":0.91,"v":0.12},{"P":0.22,"f":0.91,"v":0.14},{"P":0.24,"f":0.91,"v":0.16},{"P":0.26,"f":0.91,"v":0.17},{"P":0.28,"f":0.91,"v":0.19},{"P":0.3,"f":0.91,"v":0.21},{"P":0.32,"f":0.91,"v":0.23},{"P":0.34,"f":0.91,"v":0.25},{"P":0.36,"f":0.91,"v":0.27},{"P":0.38,"f":0.91,"v":0.3},{"P":0.4,"f":0.91,"v":0.32},{"P":0.42,"f":0.91,"v":0.34},{"P":0.44,"f":0.91,"v":0.37},{"P":0.46,"f":0.91,"v":0.39},{"P":0.48,"f":0.91,"v":0.42},{"P":0.5,"f":0.91,"v":0.45},{"P":0.52,"f":0.91,"v":0.48},{"P":0.54,"f":0.91,"v":0.52},{"P":0.56,"f":0.91,"v":0.58},{"P":0.58,"f":0.91,"v":0.63},{"P":0.6,"f":0.91,"v":0.68},{"P":0.62,"f":0.91,"v":0.72},{"P":0.64,"f":0.91,"v":0.76},{"P":0.66,"f":0.91,"v":0.8},{"P":0.68,"f":0.91,"v":0.83},{"P":0.7,"f":0.91,"v":0.85},{"P":0.72,"f":0.91,"v":0.88},{"P":0.74,"f":0.91,"v":0.9},{"P":0.76,"f":0.91,"v":0.91},{"P":0.78,"f":0.91,"v":0.92},{"P":0.8,"f":0.91,"v":0.93},{"P":0.82,"f":0.91,"v":0.95},{"P":0.84,"f":0.91,"v":0.95},{"P":0.86,"f":0.91,"v":0.96},{"P":0.88,"f":0.91,"v":0.96},{"P":0.9,"f":0.91,"v":0.97},{"P":0.92,"f":0.91,"v":0.97},{"P":0.94,"f":0.91,"v":0.98},{"P":0.96,"f":0.91,"v":0.98},{"P":0.98,"f":0.91,"v":0.99},{"P":1,"f":0.91,"v":0.99},
{"P":0.14,"f":0.89,"v":0.06},{"P":0.16,"f":0.89,"v":0.07},{"P":0.18,"f":0.89,"v":0.08},{"P":0.2,"f":0.89,"v":0.09},{"P":0.22,"f":0.89,"v":0.11},{"P":0.24,"f":0.89,"v":0.13},{"P":0.26,"f":0.89,"v":0.14},{"P":0.28,"f":0.89,"v":0.16},{"P":0.3,"f":0.89,"v":0.18},{"P":0.32,"f":0.89,"v":0.19},{"P":0.34,"f":0.89,"v":0.21},{"P":0.36,"f":0.89,"v":0.24},{"P":0.38,"f":0.89,"v":0.26},{"P":0.4,"f":0.89,"v":0.28},{"P":0.42,"f":0.89,"v":0.3},{"P":0.44,"f":0.89,"v":0.33},{"P":0.46,"f":0.89,"v":0.36},{"P":0.48,"f":0.89,"v":0.38},{"P":0.5,"f":0.89,"v":0.41},{"P":0.52,"f":0.89,"v":0.44},{"P":0.54,"f":0.89,"v":0.47},{"P":0.56,"f":0.89,"v":0.51},{"P":0.58,"f":0.89,"v":0.57},{"P":0.6,"f":0.89,"v":0.63},{"P":0.62,"f":0.89,"v":0.68},{"P":0.64,"f":0.89,"v":0.72},{"P":0.66,"f":0.89,"v":0.76},{"P":0.68,"f":0.89,"v":0.8},{"P":0.7,"f":0.89,"v":0.83},{"P":0.72,"f":0.89,"v":0.85},{"P":0.74,"f":0.89,"v":0.88},{"P":0.76,"f":0.89,"v":0.9},{"P":0.78,"f":0.89,"v":0.91},{"P":0.8,"f":0.89,"v":0.92},{"P":0.82,"f":0.89,"v":0.94},{"P":0.84,"f":0.89,"v":0.95},{"P":0.86,"f":0.89,"v":0.95},{"P":0.88,"f":0.89,"v":0.96},{"P":0.9,"f":0.89,"v":0.96},{"P":0.92,"f":0.89,"v":0.97},{"P":0.94,"f":0.89,"v":0.97},{"P":0.96,"f":0.89,"v":0.98},{"P":0.98,"f":0.89,"v":0.98},{"P":1,"f":0.89,"v":0.99},
{"P":0.18,"f":0.87,"v":0.06},{"P":0.2,"f":0.87,"v":0.08},{"P":0.22,"f":0.87,"v":0.08},{"P":0.24,"f":0.87,"v":0.1},{"P":0.26,"f":0.87,"v":0.11},{"P":0.28,"f":0.87,"v":0.13},{"P":0.3,"f":0.87,"v":0.14},{"P":0.32,"f":0.87,"v":0.16},{"P":0.34,"f":0.87,"v":0.18},{"P":0.36,"f":0.87,"v":0.19},{"P":0.38,"f":0.87,"v":0.22},{"P":0.4,"f":0.87,"v":0.24},{"P":0.42,"f":0.87,"v":0.26},{"P":0.44,"f":0.87,"v":0.29},{"P":0.46,"f":0.87,"v":0.31},{"P":0.48,"f":0.87,"v":0.34},{"P":0.5,"f":0.87,"v":0.37},{"P":0.52,"f":0.87,"v":0.4},{"P":0.54,"f":0.87,"v":0.43},{"P":0.56,"f":0.87,"v":0.47},{"P":0.58,"f":0.87,"v":0.51},{"P":0.6,"f":0.87,"v":0.57},{"P":0.62,"f":0.87,"v":0.63},{"P":0.64,"f":0.87,"v":0.68},{"P":0.66,"f":0.87,"v":0.73},{"P":0.68,"f":0.87,"v":0.77},{"P":0.7,"f":0.87,"v":0.81},{"P":0.72,"f":0.87,"v":0.83},{"P":0.74,"f":0.87,"v":0.86},{"P":0.76,"f":0.87,"v":0.89},{"P":0.78,"f":0.87,"v":0.91},{"P":0.8,"f":0.87,"v":0.92},{"P":0.82,"f":0.87,"v":0.93},{"P":0.84,"f":0.87,"v":0.94},{"P":0.86,"f":0.87,"v":0.95},{"P":0.88,"f":0.87,"v":0.96},{"P":0.9,"f":0.87,"v":0.96},{"P":0.92,"f":0.87,"v":0.97},{"P":0.94,"f":0.87,"v":0.97},{"P":0.96,"f":0.87,"v":0.98},{"P":0.98,"f":0.87,"v":0.98},{"P":1,"f":0.87,"v":0.99},
{"P":0.2,"f":0.85,"v":0.06},{"P":0.22,"f":0.85,"v":0.07},{"P":0.24,"f":0.85,"v":0.08},{"P":0.26,"f":0.85,"v":0.09},{"P":0.28,"f":0.85,"v":0.1},{"P":0.3,"f":0.85,"v":0.11},{"P":0.32,"f":0.85,"v":0.13},{"P":0.34,"f":0.85,"v":0.14},{"P":0.36,"f":0.85,"v":0.16},{"P":0.38,"f":0.85,"v":0.18},{"P":0.4,"f":0.85,"v":0.2},{"P":0.42,"f":0.85,"v":0.22},{"P":0.44,"f":0.85,"v":0.25},{"P":0.46,"f":0.85,"v":0.27},{"P":0.48,"f":0.85,"v":0.3},{"P":0.5,"f":0.85,"v":0.33},{"P":0.52,"f":0.85,"v":0.36},{"P":0.54,"f":0.85,"v":0.39},{"P":0.56,"f":0.85,"v":0.42},{"P":0.58,"f":0.85,"v":0.46},{"P":0.6,"f":0.85,"v":0.5},{"P":0.62,"f":0.85,"v":0.57},{"P":0.64,"f":0.85,"v":0.63},{"P":0.66,"f":0.85,"v":0.69},{"P":0.68,"f":0.85,"v":0.74},{"P":0.7,"f":0.85,"v":0.78},{"P":0.72,"f":0.85,"v":0.82},{"P":0.74,"f":0.85,"v":0.84},{"P":0.76,"f":0.85,"v":0.87},{"P":0.78,"f":0.85,"v":0.89},{"P":0.8,"f":0.85,"v":0.91},{"P":0.82,"f":0.85,"v":0.92},{"P":0.84,"f":0.85,"v":0.93},{"P":0.86,"f":0.85,"v":0.94},{"P":0.88,"f":0.85,"v":0.95},{"P":0.9,"f":0.85,"v":0.96},{"P":0.92,"f":0.85,"v":0.96},{"P":0.94,"f":0.85,"v":0.97},{"P":0.96,"f":0.85,"v":0.97},{"P":0.98,"f":0.85,"v":0.98},{"P":1,"f":0.85,"v":0.98},
{"P":0.24,"f":0.83,"v":0.06},{"P":0.26,"f":0.83,"v":0.07},{"P":0.28,"f":0.83,"v":0.08},{"P":0.3,"f":0.83,"v":0.09},{"P":0.32,"f":0.83,"v":0.1},{"P":0.34,"f":0.83,"v":0.11},{"P":0.36,"f":0.83,"v":0.13},{"P":0.38,"f":0.83,"v":0.14},{"P":0.4,"f":0.83,"v":0.16},{"P":0.42,"f":0.83,"v":0.18},{"P":0.44,"f":0.83,"v":0.2},{"P":0.46,"f":0.83,"v":0.22},{"P":0.48,"f":0.83,"v":0.25},{"P":0.5,"f":0.83,"v":0.28},{"P":0.52,"f":0.83,"v":0.31},{"P":0.54,"f":0.83,"v":0.34},{"P":0.56,"f":0.83,"v":0.38},{"P":0.58,"f":0.83,"v":0.41},{"P":0.6,"f":0.83,"v":0.45},{"P":0.62,"f":0.83,"v":0.5},{"P":0.64,"f":0.83,"v":0.56},{"P":0.66,"f":0.83,"v":0.63},{"P":0.68,"f":0.83,"v":0.7},{"P":0.7,"f":0.83,"v":0.75},{"P":0.72,"f":0.83,"v":0.79},{"P":0.74,"f":0.83,"v":0.82},{"P":0.76,"f":0.83,"v":0.85},{"P":0.78,"f":0.83,"v":0.88},{"P":0.8,"f":0.83,"v":0.9},{"P":0.82,"f":0.83,"v":0.91},{"P":0.84,"f":0.83,"v":0.93},{"P":0.86,"f":0.83,"v":0.94},{"P":0.88,"f":0.83,"v":0.95},{"P":0.9,"f":0.83,"v":0.95},{"P":0.92,"f":0.83,"v":0.96},{"P":0.94,"f":0.83,"v":0.97},{"P":0.96,"f":0.83,"v":0.97},{"P":0.98,"f":0.83,"v":0.98},{"P":1,"f":0.83,"v":0.98},
{"P":0.26,"f":0.81,"v":0.06},{"P":0.28,"f":0.81,"v":0.07},{"P":0.3,"f":0.81,"v":0.07},{"P":0.32,"f":0.81,"v":0.08},{"P":0.34,"f":0.81,"v":0.09},{"P":0.36,"f":0.81,"v":0.1},{"P":0.38,"f":0.81,"v":0.11},{"P":0.4,"f":0.81,"v":0.13},{"P":0.42,"f":0.81,"v":0.15},{"P":0.44,"f":0.81,"v":0.16},{"P":0.46,"f":0.81,"v":0.18},{"P":0.48,"f":0.81,"v":0.2},{"P":0.5,"f":0.81,"v":0.23},{"P":0.52,"f":0.81,"v":0.26},{"P":0.54,"f":0.81,"v":0.29},{"P":0.56,"f":0.81,"v":0.32},{"P":0.58,"f":0.81,"v":0.36},{"P":0.6,"f":0.81,"v":0.4},{"P":0.62,"f":0.81,"v":0.44},{"P":0.64,"f":0.81,"v":0.49},{"P":0.66,"f":0.81,"v":0.56},{"P":0.68,"f":0.81,"v":0.64},{"P":0.7,"f":0.81,"v":0.71},{"P":0.72,"f":0.81,"v":0.76},{"P":0.74,"f":0.81,"v":0.8},{"P":0.76,"f":0.81,"v":0.83},{"P":0.78,"f":0.81,"v":0.86},{"P":0.8,"f":0.81,"v":0.88},{"P":0.82,"f":0.81,"v":0.9},{"P":0.84,"f":0.81,"v":0.92},{"P":0.86,"f":0.81,"v":0.93},{"P":0.88,"f":0.81,"v":0.94},{"P":0.9,"f":0.81,"v":0.95},{"P":0.92,"f":0.81,"v":0.96},{"P":0.94,"f":0.81,"v":0.96},{"P":0.96,"f":0.81,"v":0.97},{"P":0.98,"f":0.81,"v":0.97},{"P":1,"f":0.81,"v":0.98},
{"P":0.3,"f":0.79,"v":0.06},{"P":0.32,"f":0.79,"v":0.07},{"P":0.34,"f":0.79,"v":0.08},{"P":0.36,"f":0.79,"v":0.08},{"P":0.38,"f":0.79,"v":0.09},{"P":0.4,"f":0.79,"v":0.1},{"P":0.42,"f":0.79,"v":0.11},{"P":0.44,"f":0.79,"v":0.13},{"P":0.46,"f":0.79,"v":0.15},{"P":0.48,"f":0.79,"v":0.17},{"P":0.5,"f":0.79,"v":0.19},{"P":0.52,"f":0.79,"v":0.21},{"P":0.54,"f":0.79,"v":0.24},{"P":0.56,"f":0.79,"v":0.27},{"P":0.58,"f":0.79,"v":0.3},{"P":0.6,"f":0.79,"v":0.34},{"P":0.62,"f":0.79,"v":0.39},{"P":0.64,"f":0.79,"v":0.43},{"P":0.66,"f":0.79,"v":0.49},{"P":0.68,"f":0.79,"v":0.56},{"P":0.7,"f":0.79,"v":0.64},{"P":0.72,"f":0.79,"v":0.71},{"P":0.74,"f":0.79,"v":0.77},{"P":0.76,"f":0.79,"v":0.81},{"P":0.78,"f":0.79,"v":0.84},{"P":0.8,"f":0.79,"v":0.86},{"P":0.82,"f":0.79,"v":0.89},{"P":0.84,"f":0.79,"v":0.91},{"P":0.86,"f":0.79,"v":0.92},{"P":0.88,"f":0.79,"v":0.93},{"P":0.9,"f":0.79,"v":0.95},{"P":0.92,"f":0.79,"v":0.95},{"P":0.94,"f":0.79,"v":0.96},{"P":0.96,"f":0.79,"v":0.97},{"P":0.98,"f":0.79,"v":0.97},{"P":1,"f":0.79,"v":0.98},
{"P":0.32,"f":0.77,"v":0.06},{"P":0.34,"f":0.77,"v":0.06},{"P":0.36,"f":0.77,"v":0.07},{"P":0.38,"f":0.77,"v":0.08},{"P":0.4,"f":0.77,"v":0.08},{"P":0.42,"f":0.77,"v":0.09},{"P":0.44,"f":0.77,"v":0.1},{"P":0.46,"f":0.77,"v":0.12},{"P":0.48,"f":0.77,"v":0.14},{"P":0.5,"f":0.77,"v":0.15},{"P":0.52,"f":0.77,"v":0.17},{"P":0.54,"f":0.77,"v":0.19},{"P":0.56,"f":0.77,"v":0.22},{"P":0.58,"f":0.77,"v":0.26},{"P":0.6,"f":0.77,"v":0.29},{"P":0.62,"f":0.77,"v":0.33},{"P":0.64,"f":0.77,"v":0.38},{"P":0.66,"f":0.77,"v":0.43},{"P":0.68,"f":0.77,"v":0.48},{"P":0.7,"f":0.77,"v":0.56},{"P":0.72,"f":0.77,"v":0.64},{"P":0.74,"f":0.77,"v":0.72},{"P":0.76,"f":0.77,"v":0.77},{"P":0.78,"f":0.77,"v":0.82},{"P":0.8,"f":0.77,"v":0.84},{"P":0.82,"f":0.77,"v":0.87},{"P":0.84,"f":0.77,"v":0.9},{"P":0.86,"f":0.77,"v":0.91},{"P":0.88,"f":0.77,"v":0.93},{"P":0.9,"f":0.77,"v":0.94},{"P":0.92,"f":0.77,"v":0.95},{"P":0.94,"f":0.77,"v":0.96},{"P":0.96,"f":0.77,"v":0.96},{"P":0.98,"f":0.77,"v":0.97},{"P":1,"f":0.77,"v":0.97},
{"P":0.36,"f":0.75,"v":0.06},{"P":0.38,"f":0.75,"v":0.07},{"P":0.4,"f":0.75,"v":0.07},{"P":0.42,"f":0.75,"v":0.08},{"P":0.44,"f":0.75,"v":0.09},{"P":0.46,"f":0.75,"v":0.09},{"P":0.48,"f":0.75,"v":0.1},{"P":0.5,"f":0.75,"v":0.12},{"P":0.52,"f":0.75,"v":0.14},{"P":0.54,"f":0.75,"v":0.16},{"P":0.56,"f":0.75,"v":0.18},{"P":0.58,"f":0.75,"v":0.2},{"P":0.6,"f":0.75,"v":0.24},{"P":0.62,"f":0.75,"v":0.28},{"P":0.64,"f":0.75,"v":0.32},{"P":0.66,"f":0.75,"v":0.37},{"P":0.68,"f":0.75,"v":0.42},{"P":0.7,"f":0.75,"v":0.48},{"P":0.72,"f":0.75,"v":0.56},{"P":0.74,"f":0.75,"v":0.64},{"P":0.76,"f":0.75,"v":0.72},{"P":0.78,"f":0.75,"v":0.78},{"P":0.8,"f":0.75,"v":0.82},{"P":0.82,"f":0.75,"v":0.85},{"P":0.84,"f":0.75,"v":0.88},{"P":0.86,"f":0.75,"v":0.9},{"P":0.88,"f":0.75,"v":0.92},{"P":0.9,"f":0.75,"v":0.93},{"P":0.92,"f":0.75,"v":0.95},{"P":0.94,"f":0.75,"v":0.95},{"P":0.96,"f":0.75,"v":0.96},{"P":0.98,"f":0.75,"v":0.96},{"P":1,"f":0.75,"v":0.97},
{"P":0.4,"f":0.73,"v":0.06},{"P":0.42,"f":0.73,"v":0.07},{"P":0.44,"f":0.73,"v":0.07},{"P":0.46,"f":0.73,"v":0.08},{"P":0.48,"f":0.73,"v":0.09},{"P":0.5,"f":0.73,"v":0.09},{"P":0.52,"f":0.73,"v":0.1},{"P":0.54,"f":0.73,"v":0.13},{"P":0.56,"f":0.73,"v":0.15},{"P":0.58,"f":0.73,"v":0.17},{"P":0.6,"f":0.73,"v":0.19},{"P":0.62,"f":0.73,"v":0.22},{"P":0.64,"f":0.73,"v":0.26},{"P":0.66,"f":0.73,"v":0.3},{"P":0.68,"f":0.73,"v":0.36},{"P":0.7,"f":0.73,"v":0.41},{"P":0.72,"f":0.73,"v":0.48},{"P":0.74,"f":0.73,"v":0.56},{"P":0.76,"f":0.73,"v":0.65},{"P":0.78,"f":0.73,"v":0.73},{"P":0.8,"f":0.73,"v":0.8},{"P":0.82,"f":0.73,"v":0.83},{"P":0.84,"f":0.73,"v":0.86},{"P":0.86,"f":0.73,"v":0.89},{"P":0.88,"f":0.73,"v":0.91},{"P":0.9,"f":0.73,"v":0.92},{"P":0.92,"f":0.73,"v":0.94},{"P":0.94,"f":0.73,"v":0.95},{"P":0.96,"f":0.73,"v":0.96},{"P":0.98,"f":0.73,"v":0.96},{"P":1,"f":0.73,"v":0.97},
{"P":0.44,"f":0.71,"v":0.06},{"P":0.46,"f":0.71,"v":0.07},{"P":0.48,"f":0.71,"v":0.07},{"P":0.5,"f":0.71,"v":0.08},{"P":0.52,"f":0.71,"v":0.09},{"P":0.54,"f":0.71,"v":0.1},{"P":0.56,"f":0.71,"v":0.11},{"P":0.58,"f":0.71,"v":0.13},{"P":0.6,"f":0.71,"v":0.15},{"P":0.62,"f":0.71,"v":0.18},{"P":0.64,"f":0.71,"v":0.2},{"P":0.66,"f":0.71,"v":0.24},{"P":0.68,"f":0.71,"v":0.29},{"P":0.7,"f":0.71,"v":0.34},{"P":0.72,"f":0.71,"v":0.41},{"P":0.74,"f":0.71,"v":0.47},{"P":0.76,"f":0.71,"v":0.55},{"P":0.78,"f":0.71,"v":0.65},{"P":0.8,"f":0.71,"v":0.74},{"P":0.82,"f":0.71,"v":0.8},{"P":0.84,"f":0.71,"v":0.83},{"P":0.86,"f":0.71,"v":0.86},{"P":0.88,"f":0.71,"v":0.9},{"P":0.9,"f":0.71,"v":0.91},{"P":0.92,"f":0.71,"v":0.93},{"P":0.94,"f":0.71,"v":0.95},{"P":0.96,"f":0.71,"v":0.95},{"P":0.98,"f":0.71,"v":0.96},{"P":1,"f":0.71,"v":0.96},
{"P":0.48,"f":0.69,"v":0.06},{"P":0.5,"f":0.69,"v":0.07},{"P":0.52,"f":0.69,"v":0.07},{"P":0.54,"f":0.69,"v":0.08},{"P":0.56,"f":0.69,"v":0.09},{"P":0.58,"f":0.69,"v":0.1},{"P":0.6,"f":0.69,"v":0.11},{"P":0.62,"f":0.69,"v":0.14},{"P":0.64,"f":0.69,"v":0.16},{"P":0.66,"f":0.69,"v":0.19},{"P":0.68,"f":0.69,"v":0.22},{"P":0.7,"f":0.69,"v":0.27},{"P":0.72,"f":0.69,"v":0.32},{"P":0.74,"f":0.69,"v":0.39},{"P":0.76,"f":0.69,"v":0.46},{"P":0.78,"f":0.69,"v":0.54},{"P":0.8,"f":0.69,"v":0.64},{"P":0.82,"f":0.69,"v":0.73},{"P":0.84,"f":0.69,"v":0.8},{"P":0.86,"f":0.69,"v":0.84},{"P":0.88,"f":0.69,"v":0.87},{"P":0.9,"f":0.69,"v":0.9},{"P":0.92,"f":0.69,"v":0.92},{"P":0.94,"f":0.69,"v":0.94},{"P":0.96,"f":0.69,"v":0.95},{"P":0.98,"f":0.69,"v":0.96},{"P":1,"f":0.69,"v":0.96},
{"P":0.52,"f":0.67,"v":0.06},{"P":0.54,"f":0.67,"v":0.07},{"P":0.56,"f":0.67,"v":0.07},{"P":0.58,"f":0.67,"v":0.08},{"P":0.6,"f":0.67,"v":0.09},{"P":0.62,"f":0.67,"v":0.1},{"P":0.64,"f":0.67,"v":0.11},{"P":0.66,"f":0.67,"v":0.14},{"P":0.68,"f":0.67,"v":0.16},{"P":0.7,"f":0.67,"v":0.19},{"P":0.72,"f":0.67,"v":0.24},{"P":0.74,"f":0.67,"v":0.29},{"P":0.76,"f":0.67,"v":0.35},{"P":0.78,"f":0.67,"v":0.43},{"P":0.8,"f":0.67,"v":0.51},{"P":0.82,"f":0.67,"v":0.61},{"P":0.84,"f":0.67,"v":0.71},{"P":0.86,"f":0.67,"v":0.8},{"P":0.88,"f":0.67,"v":0.84},{"P":0.9,"f":0.67,"v":0.87},{"P":0.92,"f":0.67,"v":0.9},{"P":0.94,"f":0.67,"v":0.92},{"P":0.96,"f":0.67,"v":0.93},{"P":0.98,"f":0.67,"v":0.94},{"P":1,"f":0.67,"v":0.96},
{"P":0.56,"f":0.65,"v":0.06},{"P":0.58,"f":0.65,"v":0.06},{"P":0.6,"f":0.65,"v":0.07},{"P":0.62,"f":0.65,"v":0.08},{"P":0.64,"f":0.65,"v":0.09},{"P":0.66,"f":0.65,"v":0.09},{"P":0.68,"f":0.65,"v":0.11},{"P":0.7,"f":0.65,"v":0.14},{"P":0.72,"f":0.65,"v":0.17},{"P":0.74,"f":0.65,"v":0.2},{"P":0.76,"f":0.65,"v":0.26},{"P":0.78,"f":0.65,"v":0.32},{"P":0.8,"f":0.65,"v":0.39},{"P":0.82,"f":0.65,"v":0.48},{"P":0.84,"f":0.65,"v":0.57},{"P":0.86,"f":0.65,"v":0.68},{"P":0.88,"f":0.65,"v":0.78},{"P":0.9,"f":0.65,"v":0.83},{"P":0.92,"f":0.65,"v":0.88},{"P":0.94,"f":0.65,"v":0.91},{"P":0.96,"f":0.65,"v":0.92},{"P":0.98,"f":0.65,"v":0.94},{"P":1,"f":0.65,"v":0.95},
{"P":0.62,"f":0.63,"v":0.06},{"P":0.64,"f":0.63,"v":0.07},{"P":0.66,"f":0.63,"v":0.08},{"P":0.68,"f":0.63,"v":0.08},{"P":0.7,"f":0.63,"v":0.09},{"P":0.72,"f":0.63,"v":0.1},{"P":0.74,"f":0.63,"v":0.14},{"P":0.76,"f":0.63,"v":0.18},{"P":0.78,"f":0.63,"v":0.22},{"P":0.8,"f":0.63,"v":0.28},{"P":0.82,"f":0.63,"v":0.36},{"P":0.84,"f":0.63,"v":0.44},{"P":0.86,"f":0.63,"v":0.54},{"P":0.88,"f":0.63,"v":0.65},{"P":0.9,"f":0.63,"v":0.76},{"P":0.92,"f":0.63,"v":0.83},{"P":0.94,"f":0.63,"v":0.88},{"P":0.96,"f":0.63,"v":0.91},{"P":0.98,"f":0.63,"v":0.93},{"P":1,"f":0.63,"v":0.95},
{"P":0.66,"f":0.61,"v":0.06},{"P":0.68,"f":0.61,"v":0.07},{"P":0.7,"f":0.61,"v":0.08},{"P":0.72,"f":0.61,"v":0.08},{"P":0.74,"f":0.61,"v":0.09},{"P":0.76,"f":0.61,"v":0.11},{"P":0.78,"f":0.61,"v":0.15},{"P":0.8,"f":0.61,"v":0.19},{"P":0.82,"f":0.61,"v":0.25},{"P":0.84,"f":0.61,"v":0.33},{"P":0.86,"f":0.61,"v":0.42},{"P":0.88,"f":0.61,"v":0.52},{"P":0.9,"f":0.61,"v":0.63},{"P":0.92,"f":0.61,"v":0.75},{"P":0.94,"f":0.61,"v":0.83},{"P":0.96,"f":0.61,"v":0.89},{"P":0.98,"f":0.61,"v":0.92},{"P":1,"f":0.61,"v":0.94},
{"P":0.72,"f":0.59,"v":0.06},{"P":0.74,"f":0.59,"v":0.07},{"P":0.76,"f":0.59,"v":0.08},{"P":0.78,"f":0.59,"v":0.09},{"P":0.8,"f":0.59,"v":0.12},{"P":0.82,"f":0.59,"v":0.16},{"P":0.84,"f":0.59,"v":0.21},{"P":0.86,"f":0.59,"v":0.31},{"P":0.88,"f":0.59,"v":0.41},{"P":0.9,"f":0.59,"v":0.51},{"P":0.92,"f":0.59,"v":0.63},{"P":0.94,"f":0.59,"v":0.75},{"P":0.96,"f":0.59,"v":0.83},{"P":0.98,"f":0.59,"v":0.9},{"P":1,"f":0.59,"v":0.93},
{"P":0.78,"f":0.57,"v":0.06},{"P":0.8,"f":0.57,"v":0.08},{"P":0.82,"f":0.57,"v":0.09},{"P":0.84,"f":0.57,"v":0.1},{"P":0.86,"f":0.57,"v":0.14},{"P":0.88,"f":0.57,"v":0.19},{"P":0.9,"f":0.57,"v":0.31},{"P":0.92,"f":0.57,"v":0.43},{"P":0.94,"f":0.57,"v":0.57},{"P":0.96,"f":0.57,"v":0.7},{"P":0.98,"f":0.57,"v":0.78},{"P":1,"f":0.57,"v":0.85},
{"P":0.84,"f":0.55,"v":0.06},{"P":0.86,"f":0.55,"v":0.08},{"P":0.88,"f":0.55,"v":0.09},{"P":0.9,"f":0.55,"v":0.1},{"P":0.92,"f":0.55,"v":0.17},{"P":0.94,"f":0.55,"v":0.27},{"P":0.96,"f":0.55,"v":0.45},{"P":0.98,"f":0.55,"v":0.63},{"P":1,"f":0.55,"v":0.75},
{"P":0.92,"f":0.53,"v":0.07},{"P":0.94,"f":0.53,"v":0.13},{"P":0.96,"f":0.53,"v":0.25},{"P":0.98,"f":0.53,"v":0.45},{"P":1,"f":0.53,"v":0.65},
{"P":0.96,"f":0.51,"v":0.12},{"P":0.98,"f":0.51,"v":0.3},{"P":1,"f":0.51,"v":0.5}
    ],
    "curve": [
      {"P": 0, "f": 1}, {"P": 0.05, "f": 0.95238}, {"P": 0.1, "f": 0.90909}, {"P": 0.15, "f": 0.86957}, {"P": 0.2, "f": 0.83333}, {"P": 0.25, "f": 0.8}, {"P": 0.3, "f": 0.76923}, {"P": 0.35, "f": 0.74074}, {"P": 0.4, "f": 0.71429}, {"P": 0.45, "f": 0.68966}, {"P": 0.5, "f": 0.66667}, {"P": 0.55, "f": 0.64516}, {"P": 0.6, "f": 0.625}, {"P": 0.65, "f": 0.60606}, {"P": 0.7, "f": 0.58824}, {"P": 0.75, "f": 0.57143}, {"P": 0.8, "f": 0.55556}, {"P": 0.85, "f": 0.54054}, {"P": 0.9, "f": 0.52632}, {"P": 0.95, "f": 0.51282}, {"P": 1, "f": 0.5}
    ],
    "dash": [
      {"P": 0.14, "f0": 0.8772, "f1": 1}, {"P": 0.52, "f0": 0.6579, "f1": 1}, {"P": 0.62, "f0": 0.6173, "f1": 1}, {"P": 0.83, "f0": 0.5464, "f1": 1}, {"P": 0.95, "f0": 0.5128, "f1": 1}, {"P": 0.98, "f0": 0.5051, "f1": 1}, {"P": 0.99, "f0": 0.5025, "f1": 1}, {"P": 0.999, "f0": 0.5003, "f1": 1}
    ]
  },
  "hconcat": [
    {
      "width": 465, "height": 465,
      "view": {"fill": "#1c3461", "stroke": null},
      "resolve": {"axis": {"x": "independent", "y": "independent"}},
      "layer": [
        {"data": {"name": "heatA"},
         "mark": {"type": "rect", "width": 9.4, "height": 18.9, "clip": true},
         "encoding": {
           "x": {"field": "P", "type": "quantitative", "title": "Homing efficiency, P", "scale": {"domain": [-0.01, 1.01], "nice": false, "zero": false},
                 "axis": {"orient": "bottom", "values": [0, 0.2, 0.4, 0.6, 0.8, 1], "format": ".1~f", "tickSize": 6, "labelPadding": 9, "titlePadding": 7, "labelFlush": false}},
           "y": {"field": "f", "type": "quantitative", "title": "Drive fitness, f", "scale": {"domain": [0.5, 1], "nice": false, "zero": false},
                 "axis": {"orient": "left", "values": [0.5, 0.6, 0.7, 0.8, 0.9, 1], "format": ".1~f", "tickSize": 6, "titlePadding": 10, "labelFlush": false}},
           "color": {"field": "v", "type": "quantitative", "title": "Mean peak drive",
                     "scale": {"domain": [0.029, 0.1, 0.2, 0.3, 0.4, 0.5, 0.6, 0.7, 0.8, 0.9, 1], "range": ["#1b3360", "#25579f", "#1a6fb3", "#4f9bca", "#a3cbe2", "#f4f4f4", "#fad7c4", "#f0a07e", "#d8604d", "#bd1f2e", "#67001f"]},
                     "legend": {"direction": "vertical", "orient": "right", "gradientLength": 465, "gradientThickness": 29, "gradientStrokeWidth": 0, "values": [0.1, 0.2, 0.3, 0.4, 0.5, 0.6, 0.7, 0.8, 0.9, 1], "format": ".1~f", "labelFontSize": 21, "titleFontSize": 22, "titleFontWeight": "normal", "titleOrient": "right", "titleAnchor": "middle", "titlePadding": 6, "offset": 22, "padding": 0, "labelOffset": 7, "labelOverlap": false, "labelColor": "#000000", "titleColor": "#000000",
                                "encode": {"title": {"update": {"angle": {"value": 90}}}, "labels": {"update": {"baseline": {"value": "middle"}}}}}}
         }},
        {"data": {"name": "dash"}, "mark": {"type": "rule", "color": "white", "strokeDash": [6, 4], "strokeWidth": 1.8},
         "encoding": {"x": {"field": "P", "type": "quantitative", "axis": null}, "y": {"field": "f0", "type": "quantitative", "axis": null}, "y2": {"field": "f1"}}},
        {"data": {"name": "curve"}, "mark": {"type": "line", "color": "white", "strokeWidth": 2, "interpolate": "monotone"},
         "encoding": {
           "x": {"field": "P", "type": "quantitative", "axis": {"orient": "bottom", "values": [0.05, 0.1, 0.15, 0.25, 0.3, 0.35, 0.45, 0.5, 0.55, 0.65, 0.7, 0.75, 0.85, 0.9, 0.95], "labels": false, "domain": false, "tickSize": 3, "title": null}},
           "y": {"field": "f", "type": "quantitative", "axis": {"orient": "left", "values": [0.52, 0.54, 0.56, 0.58, 0.62, 0.64, 0.66, 0.68, 0.72, 0.74, 0.76, 0.78, 0.82, 0.84, 0.86, 0.88, 0.92, 0.94, 0.96, 0.98], "labels": false, "domain": false, "tickSize": 3, "title": null}}}}
      ]
    },
    {
      "width": 465, "height": 465,
      "view": {"fill": "#1c3461", "stroke": null},
      "resolve": {"axis": {"x": "independent", "y": "independent"}},
      "layer": [
        {"data": {"name": "heatB"},
         "mark": {"type": "rect", "width": 9.4, "height": 18.9, "clip": true},
         "encoding": {
           "x": {"field": "P", "type": "quantitative", "title": "Homing efficiency, P", "scale": {"domain": [-0.01, 1.01], "nice": false, "zero": false},
                 "axis": {"orient": "bottom", "values": [0, 0.2, 0.4, 0.6, 0.8, 1], "format": ".1~f", "tickSize": 6, "labelPadding": 9, "titlePadding": 7, "labelFlush": false}},
           "y": {"field": "f", "type": "quantitative", "title": "Drive fitness, f", "scale": {"domain": [0.5, 1], "nice": false, "zero": false},
                 "axis": {"orient": "left", "values": [0.5, 0.6, 0.7, 0.8, 0.9, 1], "format": ".1~f", "tickSize": 6, "titlePadding": 10, "labelFlush": false}},
           "color": {"field": "v", "type": "quantitative", "title": "Mean peak drive",
                     "scale": {"domain": [0.029, 0.1, 0.2, 0.3, 0.4, 0.5, 0.6, 0.7, 0.8, 0.9, 1], "range": ["#1b3360", "#25579f", "#1a6fb3", "#4f9bca", "#a3cbe2", "#f4f4f4", "#fad7c4", "#f0a07e", "#d8604d", "#bd1f2e", "#67001f"]},
                     "legend": {"direction": "vertical", "orient": "right", "gradientLength": 465, "gradientThickness": 29, "gradientStrokeWidth": 0, "values": [0.1, 0.2, 0.3, 0.4, 0.5, 0.6, 0.7, 0.8, 0.9, 1], "format": ".1~f", "labelFontSize": 21, "titleFontSize": 22, "titleFontWeight": "normal", "titleOrient": "right", "titleAnchor": "middle", "titlePadding": 6, "offset": 22, "padding": 0, "labelOffset": 7, "labelOverlap": false, "labelColor": "#000000", "titleColor": "#000000",
                                "encode": {"title": {"update": {"angle": {"value": 90}}}, "labels": {"update": {"baseline": {"value": "middle"}}}}}}
         }},
        {"data": {"name": "dash"}, "mark": {"type": "rule", "color": "white", "strokeDash": [6, 4], "strokeWidth": 1.8},
         "encoding": {"x": {"field": "P", "type": "quantitative", "axis": null}, "y": {"field": "f0", "type": "quantitative", "axis": null}, "y2": {"field": "f1"}}},
        {"data": {"name": "curve"}, "mark": {"type": "line", "color": "white", "strokeWidth": 2, "interpolate": "monotone"},
         "encoding": {
           "x": {"field": "P", "type": "quantitative", "axis": {"orient": "bottom", "values": [0.05, 0.1, 0.15, 0.25, 0.3, 0.35, 0.45, 0.5, 0.55, 0.65, 0.7, 0.75, 0.85, 0.9, 0.95], "labels": false, "domain": false, "tickSize": 3, "title": null}},
           "y": {"field": "f", "type": "quantitative", "axis": {"orient": "left", "values": [0.52, 0.54, 0.56, 0.58, 0.62, 0.64, 0.66, 0.68, 0.72, 0.74, 0.76, 0.78, 0.82, 0.84, 0.86, 0.88, 0.92, 0.94, 0.96, 0.98], "labels": false, "domain": false, "tickSize": 3, "title": null}}}}
      ]
    }
  ],
  "spacing": 62,
  "resolve": {"scale": {"color": "independent"}, "legend": {"color": "independent"}}
}
